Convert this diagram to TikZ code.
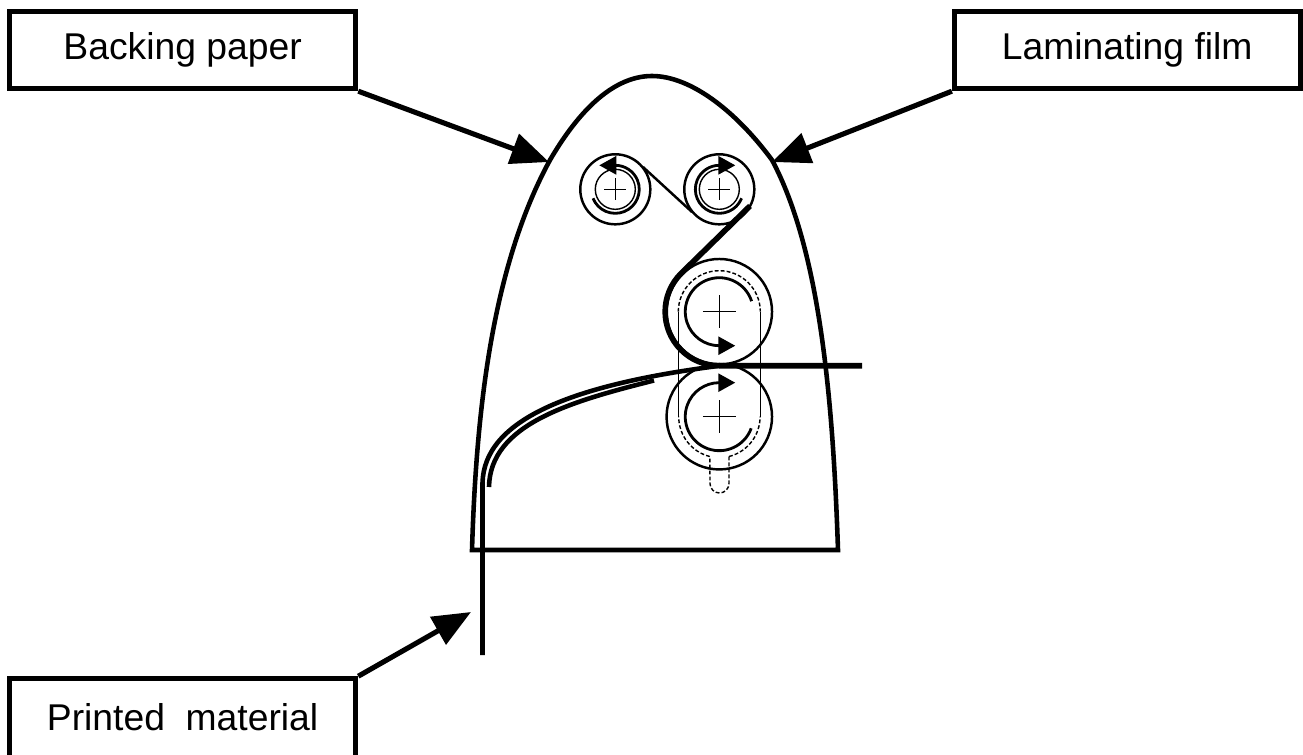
\documentclass[tikz,border=0pt]{standalone}
\usepackage{fontspec}
\setmainfont{Liberation Sans}
\usetikzlibrary{arrows.meta}

\tikzset{
  label box/.style = {draw, line width = 1.4pt, inner sep = 0pt, text height = 0.27cm, text depth = 0.09cm, font = \fontsize{10.6}{12}\selectfont},
  callout/.style = {line width = 1.45pt, -{Triangle[length = 3.8mm, width = 3.1mm]}},
  small roller/.style = {draw, circle, line width = 0.7pt, inner sep = 0pt, minimum size = 0.7cm},
  big roller/.style = {draw, circle, line width = 0.7pt, inner sep = 0pt, minimum size = 1.054cm},
  hub/.style = {draw, circle, line width = 0.4pt, inner sep = 0pt, minimum size = 0.4cm},
  spin/.style = {line width = 0.8pt, -{Triangle[length = 1.7mm, width = 1.8mm]}},
  web/.style = {line width = 1.6pt},
}

\begin{document}
\begin{tikzpicture}[x = 0.01cm, y = -0.01cm]
      \useasboundingbox (0, 0) rectangle (1303, 754);
      \node[label box, minimum width = 3.462cm, minimum height = 0.774cm] (Backing) at (182.6, 50) {Backing paper};
      \node[label box, minimum width = 3.455cm, minimum height = 0.774cm] (Laminating) at (1127.2, 50) {Laminating film};
      \node[label box, minimum width = 3.462cm, minimum height = 0.846cm] (Printed) at (182.6, 721) {Printed\ \ material};
      % housing
      \draw[line width = 1.3pt] (472, 550) .. controls (476, 420) and (490, 270) .. (550, 160)
            .. controls (585, 100) and (620, 76) .. (652, 76)
            .. controls (690, 76) and (735, 110) .. (772, 160)
            .. controls (820, 250) and (833, 400) .. (838, 550) -- cycle;
      % rollers
      \node[small roller] (Left Spool) at (615.3, 189.3) {};
      \node[small roller] (Right Spool) at (719.3, 189.3) {};
      \node[hub] (Left Hub) at (615.3, 189.3) {};
      \node[hub] (Right Hub) at (719.3, 189.3) {};
      \node[big roller] (Top Roller) at (719.3, 311.7) {};
      \node[big roller] (Bottom Roller) at (719.3, 416.7) {};
      \foreach \cx/\cy/\arm in {615.3/189.3/11, 719.3/189.3/11, 719.3/311.7/16.5, 719.3/416.7/16.5}
        \draw[line width = 0.4pt] (\cx - \arm, \cy) -- (\cx + \arm, \cy) (\cx, \cy - \arm) -- (\cx, \cy + \arm);
      % slot
      \draw[dash pattern = on 1.1pt off 0.6pt, line width = 0.4pt] (678.3, 311.7) arc[start angle = 180, end angle = 360, radius = 41]
            (729, 456.5) arc[start angle = 76, end angle = 0, radius = 41]
            (729, 456.5) -- (729, 483.5) arc[start angle = 0, end angle = 180, radius = 9.5] -- (709.8, 456.5)
            arc[start angle = 104, end angle = 180, radius = 41];
      \draw[line width = 0.4pt] (678.3, 311.7) -- (678.3, 416.7) (760.3, 311.7) -- (760.3, 416.7);
      % direction arrows
      \draw[spin] (593, 198.3) arc[start angle = 158, end angle = -90, radius = 24] -- +(-16, 0);
      \draw[spin] (741.6, 198.3) arc[start angle = 22, end angle = 270, radius = 24] -- +(16, 0);
      \draw[spin] (751.6, 301.2) arc[start angle = -18, end angle = -270, radius = 34] -- +(16, 0);
      \draw[spin] (751.2, 428.3) arc[start angle = 20, end angle = 270, radius = 34] -- +(16, 0);
      % film and paper
      \draw[line width = 0.7pt] (643, 167) -- (692, 212);
      \coordinate (Film Start) at (750, 206);
      \coordinate (Film End) at (862, 365.7);
      \coordinate (Paper Start) at (482.5, 655);
      \coordinate (Liner End) at (654, 380.5);
      \draw[web] (Film Start) -- (681, 273.5) arc[start angle = 225, end angle = 90, radius = 54] -- (Film End);
      \draw[web, line width = 1.3pt] (Paper Start) -- (482.5, 483) .. controls (484, 420) and (570, 385) .. (720, 365.7);
      \draw[web, line width = 1.3pt] (489, 487) .. controls (490, 425) and (568, 402) .. (Liner End);
      % callouts
      \coordinate (Backing Tip) at (549, 162);
      \coordinate (Laminating Tip) at (772, 162);
      \coordinate (Printed Tip) at (471, 612);
      \draw[callout] (Backing.south east) -- (Backing Tip);
      \draw[callout] (Laminating.south west) -- (Laminating Tip);
      \draw[callout] (Printed.north east) -- (Printed Tip);
    \end{tikzpicture}
\end{document}
